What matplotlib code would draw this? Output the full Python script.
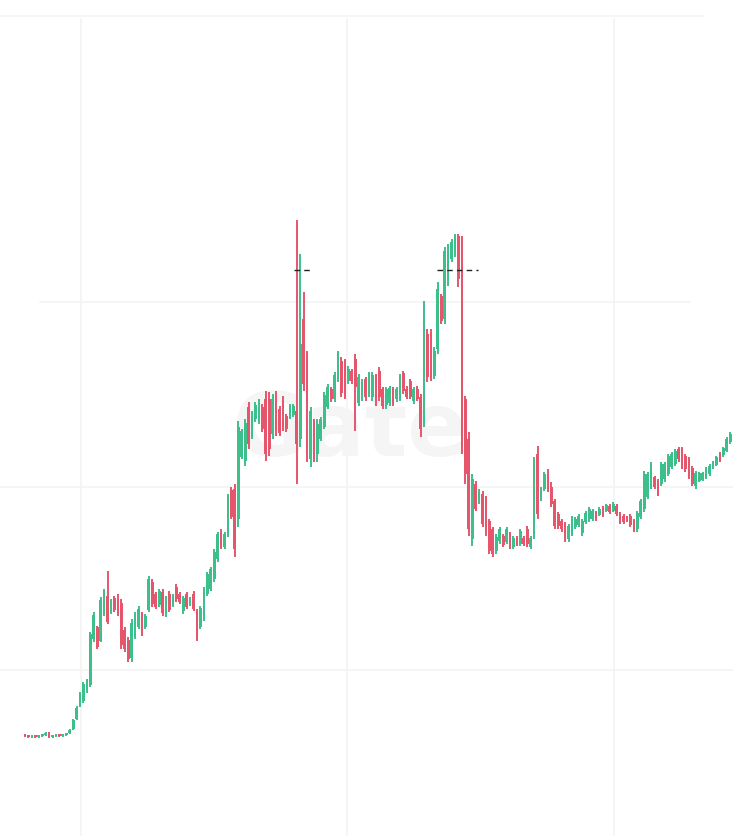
#!/usr/bin/env python3
"""Candlestick chart recreated from a cropped exchange screenshot."""

import numpy as np
import matplotlib
matplotlib.use("Agg")
import matplotlib.pyplot as plt

# OHLC values (arbitrary price units) left to right
opens = [
    104, 103, 102, 103, 102, 103, 104, 106, 102, 103, 104, 103, 104,
    106, 110, 120, 133, 138, 148, 154, 200, 212, 198,
    226, 243, 227, 241, 240, 236, 209, 199, 181, 202,
    212, 225, 212, 229, 257, 245, 234, 247, 225, 245,
    234, 252, 245, 228, 245, 235, 245, 228, 212, 221,
    245, 250, 260, 280, 307, 292, 305, 349, 350, 320,
    382, 378, 432, 402, 420, 418, 432, 440, 440, 405, 442, 430, 438, 423, 421, 424,
    428,
    400, 520, 482, 380, 418, 385, 400, 412, 432, 450, 440, 460,
    478, 476, 458, 468, 480, 436, 442, 460, 445, 442, 462, 468, 450, 434, 436, 450,
    440, 440, 466, 450, 458, 438, 450, 442, 415, 505,
    505, 463, 490, 543, 520, 560, 580, 585, 603, 600, 440, 400, 300, 355, 338, 345,
    340, 318, 310, 288, 298, 303, 297, 305, 292, 301,
    295, 301, 310, 292, 305, 385, 340, 350, 366, 352, 338, 325, 318, 315, 300, 305,
    312, 314, 306, 317, 320, 320, 327, 324, 331, 328,
    333, 328, 333, 325, 323, 322, 323, 318, 310, 322, 330, 342, 352, 362, 358, 355,
    360, 365, 372, 375, 390, 390, 383, 380, 371, 353,
    358, 359, 362, 365, 371, 374, 385, 384, 388, 397,
]
highs = [
    105, 104, 104, 104, 104, 105, 107, 107, 104, 105, 105, 105, 106,
    110, 120, 133, 147, 157, 160, 207, 227, 213, 242,
    250, 268, 240, 243, 245, 240, 212, 202, 220, 227,
    233, 227, 225, 263, 260, 247, 250, 250, 243, 248,
    245, 255, 247, 243, 247, 242, 248, 230, 233, 252,
    267, 272, 290, 307, 310, 307, 345, 352, 355, 418,
    410, 420, 437, 428, 437, 440, 435, 448, 447, 445, 448, 433, 443, 425, 435, 435,
    619,
    585, 547, 488, 432, 420, 420, 422, 447, 455, 452, 467, 488,
    482, 480, 473, 470, 485, 465, 460, 462, 467, 467, 465, 472, 452, 452, 453, 452,
    452, 465, 468, 453, 460, 452, 453, 445, 538, 510,
    510, 492, 557, 545, 592, 595, 600, 605, 605, 603, 443, 407, 365, 358, 350, 348,
    343, 320, 312, 305, 312, 305, 312, 307, 303, 303,
    310, 303, 313, 303, 382, 393, 352, 367, 370, 357, 340, 327, 320, 317, 315, 323,
    322, 325, 320, 328, 332, 330, 328, 332, 333, 335,
    335, 337, 335, 327, 325, 323, 325, 320, 328, 340, 368, 367, 377, 363, 360, 377,
    377, 385, 387, 390, 392, 392, 385, 382, 373, 368,
    367, 367, 372, 375, 378, 383, 387, 392, 402, 407,
]
lows = [
    102, 101, 101, 101, 101, 102, 103, 101, 101, 102, 102, 102, 103,
    105, 109, 119, 132, 136, 146, 152, 197, 190, 197,
    223, 215, 225, 227, 223, 190, 187, 177, 177, 200,
    210, 203, 210, 227, 232, 230, 232, 223, 222, 227,
    232, 237, 235, 225, 230, 233, 228, 198, 210, 218,
    243, 248, 257, 277, 290, 290, 302, 320, 282, 312,
    380, 373, 390, 400, 417, 415, 407, 378, 383, 400, 403, 403, 408, 407, 420, 422,
    355,
    392, 448, 377, 372, 377, 377, 398, 410, 430, 437, 437, 457,
    442, 440, 455, 455, 408, 433, 438, 438, 442, 438, 433, 438, 430, 430, 433, 433,
    437, 438, 445, 440, 440, 435, 438, 402, 412, 457,
    458, 460, 485, 515, 515, 553, 577, 582, 552, 385, 355, 303, 293, 328, 335, 312,
    303, 285, 282, 285, 295, 292, 295, 290, 290, 293,
    293, 293, 292, 290, 300, 320, 338, 348, 347, 332, 310, 310, 307, 297, 297, 303,
    310, 312, 303, 315, 317, 318, 318, 323, 322, 327,
    325, 327, 323, 315, 315, 317, 312, 307, 307, 320, 327, 340, 350, 350, 343, 353,
    357, 363, 370, 373, 377, 370, 367, 360, 353, 350,
    357, 358, 360, 363, 370, 373, 377, 382, 387, 395,
]
closes = [
    103, 102, 103, 102, 103, 104, 106, 102, 103, 104, 103, 104, 105,
    109, 119, 131, 145, 155, 159, 205, 224, 192, 239,
    248, 217, 238, 229, 226, 194, 190, 180, 216, 224,
    230, 206, 223, 260, 235, 232, 248, 226, 241, 229,
    243, 240, 237, 241, 232, 241, 230, 201, 231, 249,
    265, 270, 287, 305, 292, 305, 343, 322, 290, 412,
    408, 416, 395, 425, 434, 436, 410, 385, 390, 440, 408, 406, 412, 410, 433, 433,
    395,
    495, 455, 385, 428, 382, 415, 420, 444, 452, 440, 464, 485,
    446, 444, 470, 458, 452, 462, 457, 442, 464, 464, 437, 442, 433, 450, 451, 436,
    450, 462, 448, 442, 442, 450, 440, 410, 520, 462,
    462, 488, 550, 518, 588, 592, 597, 602, 560, 392, 365, 310, 360, 330, 348, 315,
    308, 288, 285, 302, 310, 294, 310, 292, 301, 295,
    308, 295, 295, 301, 375, 325, 350, 365, 350, 335, 313, 313, 310, 300, 313, 320,
    320, 323, 318, 326, 330, 328, 320, 330, 324, 334,
    327, 335, 325, 317, 317, 318, 314, 309, 326, 338, 365, 365, 375, 352, 345, 375,
    375, 383, 385, 388, 380, 372, 370, 362, 355, 366,
    366, 366, 370, 373, 377, 382, 378, 391, 400, 405,
]

# dashed price level seen near the two tops
level_price = 569
level_spans = [(78.2, 83.1), (119.8, 131.7)]

GREEN = "#3dbf8c"
RED = "#e5566c"
GRID = "#f3f3f5"


def main():
    o = np.array(opens, dtype=float)
    h = np.array(highs, dtype=float)
    l = np.array(lows, dtype=float)
    c = np.array(closes, dtype=float)
    x = np.arange(len(o))
    up = c >= o
    colors = np.where(up, GREEN, RED)

    fig = plt.figure(figsize=(7.33, 8.37), dpi=100)
    ax = fig.add_axes([0, 0, 1, 1])
    ax.set_axis_off()

    # candle step ~3.44 px, first candle at 25 px
    step = 3.44
    ax.set_xlim(-25 / step, (733 - 25) / step)
    ax.set_ylim(3, 840)

    # light grid
    for gy, x0, x1 in [(537, 40 / 733, 690 / 733), (352, 0, 1), (169, 0, 1)]:
        ax.axhline(gy, xmin=x0, xmax=x1, color=GRID, lw=1.2, zorder=0)
    for gx in [16.3, 93.6, 171.2]:
        ax.axvline(gx, ymin=0, ymax=1 - 20 / 837, color=GRID, lw=1.2, zorder=0)
    ax.axhline(823, xmin=0, xmax=703 / 733, color=GRID, lw=1.2, zorder=0)

    # watermark
    ax.text(0.478, 0.485, "Gate", transform=ax.transAxes, ha="center", va="center",
            fontsize=64, fontweight="bold", color="#f5f5f6", zorder=0.5)

    # candles
    ax.vlines(x, l, h, colors=colors, lw=1.4, zorder=2)
    body_lo = np.minimum(o, c)
    body_h = np.maximum(np.abs(c - o), 2.0)
    ax.bar(x, body_h, bottom=body_lo, width=0.78, color=colors, lw=0, zorder=3)

    for a, b in level_spans:
        ax.hlines(level_price, a, b, colors="#222222", lw=1.0,
                  linestyles=(0, (4, 3)), zorder=4)

    fig.savefig("out.png", dpi=100, facecolor="white")


if __name__ == "__main__":
    main()
